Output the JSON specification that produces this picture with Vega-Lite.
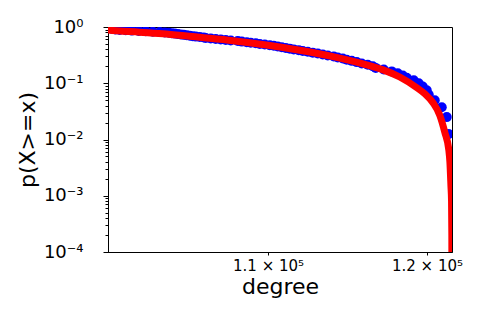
{
  "$schema": "https://vega.github.io/schema/vega-lite/v6.json",
  "width": 344,
  "height": 225,
  "autosize": "none",
  "padding": {"left": 108, "top": 27, "right": 28, "bottom": 68},
  "config": {
    "view": {"stroke": "black", "strokeWidth": 1},
    "font": "DejaVu Sans",
    "axis": {
      "grid": false,
      "domainColor": "black",
      "tickColor": "black",
      "labelColor": "black",
      "titleColor": "black",
      "titleFontWeight": "normal",
      "labelFont": "DejaVu Sans",
      "titleFont": "DejaVu Sans",
      "labelOverlap": false,
      "labelFlush": false,
      "labelBound": false
    }
  },
  "datasets": {
    "ccdf": [
      {"degree": 100788, "p": 1},
      {"degree": 100816, "p": 0.9875},
      {"degree": 100843, "p": 0.975},
      {"degree": 100871, "p": 0.9625},
      {"degree": 100926, "p": 0.95},
      {"degree": 100981, "p": 0.9375},
      {"degree": 101037, "p": 0.925},
      {"degree": 101147, "p": 0.9125},
      {"degree": 101203, "p": 0.9},
      {"degree": 101424, "p": 0.8875},
      {"degree": 101758, "p": 0.875},
      {"degree": 102093, "p": 0.8625},
      {"degree": 102485, "p": 0.85},
      {"degree": 102878, "p": 0.8375},
      {"degree": 103273, "p": 0.825},
      {"degree": 103669, "p": 0.8125},
      {"degree": 103954, "p": 0.8},
      {"degree": 104181, "p": 0.7875},
      {"degree": 104352, "p": 0.775},
      {"degree": 104524, "p": 0.7625},
      {"degree": 104696, "p": 0.75},
      {"degree": 104868, "p": 0.7375},
      {"degree": 105040, "p": 0.725},
      {"degree": 105213, "p": 0.7125},
      {"degree": 105386, "p": 0.7},
      {"degree": 105559, "p": 0.6875},
      {"degree": 105732, "p": 0.675},
      {"degree": 105964, "p": 0.6625},
      {"degree": 106196, "p": 0.65},
      {"degree": 106313, "p": 0.6375},
      {"degree": 106604, "p": 0.625},
      {"degree": 106896, "p": 0.6125},
      {"degree": 107189, "p": 0.6},
      {"degree": 107483, "p": 0.5875},
      {"degree": 107777, "p": 0.575},
      {"degree": 108191, "p": 0.5625},
      {"degree": 108428, "p": 0.55},
      {"degree": 108725, "p": 0.5375},
      {"degree": 108964, "p": 0.525},
      {"degree": 109262, "p": 0.5125},
      {"degree": 109502, "p": 0.5},
      {"degree": 109802, "p": 0.4875},
      {"degree": 110103, "p": 0.475},
      {"degree": 110344, "p": 0.4625},
      {"degree": 110587, "p": 0.45},
      {"degree": 110829, "p": 0.4375},
      {"degree": 111071, "p": 0.425},
      {"degree": 111314, "p": 0.4125},
      {"degree": 111559, "p": 0.4},
      {"degree": 111865, "p": 0.3875},
      {"degree": 112109, "p": 0.375},
      {"degree": 112417, "p": 0.3625},
      {"degree": 112725, "p": 0.35},
      {"degree": 113034, "p": 0.3375},
      {"degree": 113344, "p": 0.325},
      {"degree": 113654, "p": 0.3125},
      {"degree": 114028, "p": 0.3},
      {"degree": 114278, "p": 0.2875},
      {"degree": 114591, "p": 0.275},
      {"degree": 114842, "p": 0.2625},
      {"degree": 115157, "p": 0.25},
      {"degree": 115473, "p": 0.2375},
      {"degree": 115789, "p": 0.225},
      {"degree": 116170, "p": 0.2125},
      {"degree": 116488, "p": 0.2},
      {"degree": 116679, "p": 0.1875},
      {"degree": 117191, "p": 0.175},
      {"degree": 117705, "p": 0.1625},
      {"degree": 118092, "p": 0.15},
      {"degree": 118416, "p": 0.1375},
      {"degree": 118675, "p": 0.125},
      {"degree": 119131, "p": 0.1125},
      {"degree": 119457, "p": 0.1},
      {"degree": 119719, "p": 0.0875},
      {"degree": 119982, "p": 0.075},
      {"degree": 120113, "p": 0.0625},
      {"degree": 120508, "p": 0.05},
      {"degree": 120971, "p": 0.0375},
      {"degree": 121302, "p": 0.025},
      {"degree": 121435, "p": 0.0125}
    ],
    "fit": [
      {"degree": 100700, "p": 0.895},
      {"degree": 100780, "p": 0.885},
      {"degree": 102540, "p": 0.81},
      {"degree": 104050, "p": 0.75},
      {"degree": 105960, "p": 0.655},
      {"degree": 107910, "p": 0.57},
      {"degree": 109900, "p": 0.478},
      {"degree": 111930, "p": 0.385},
      {"degree": 113980, "p": 0.298},
      {"degree": 116090, "p": 0.213},
      {"degree": 117150, "p": 0.173},
      {"degree": 118220, "p": 0.129},
      {"degree": 119310, "p": 0.084},
      {"degree": 119850, "p": 0.065},
      {"degree": 120390, "p": 0.045},
      {"degree": 120840, "p": 0.027},
      {"degree": 121170, "p": 0.0135},
      {"degree": 121440, "p": 0.0065},
      {"degree": 121510, "p": 0.004},
      {"degree": 121580, "p": 0.0015},
      {"degree": 121620, "p": 0.0008},
      {"degree": 121640, "p": 0.0002},
      {"degree": 121650, "p": 0.00001}
    ]
  },
  "encoding": {
    "x": {
      "field": "degree",
      "type": "quantitative",
      "scale": {"type": "log", "domain": [100775, 121651], "nice": false, "zero": false},
      "axis": {
        "title": "degree",
        "titleFontSize": 22,
        "titlePadding": 3,
        "values": [110000, 120000],
        "labelExpr": "datum.value == 110000 ? '1.1 × 10⁵' : datum.value == 120000 ? '1.2 × 10⁵' : ''",
        "labelFontSize": 15,
        "labelPadding": 3,
        "tickSize": 3
      }
    },
    "y": {
      "field": "p",
      "type": "quantitative",
      "scale": {"type": "log", "domain": [0.0001, 1], "nice": false, "zero": false},
      "axis": {
        "title": "p(X>=x)",
        "titleFontSize": 22,
        "titlePadding": 4,
        "values": [1, 0.1, 0.01, 0.001, 0.0001, 0.9, 0.8, 0.7, 0.6, 0.5, 0.4, 0.3, 0.2, 0.09, 0.08, 0.07, 0.06, 0.05, 0.04, 0.03, 0.02, 0.009, 0.008, 0.007, 0.006, 0.005, 0.004, 0.003, 0.002, 0.0009, 0.0008, 0.0007, 0.0006, 0.0005, 0.0004, 0.0003, 0.0002],
        "labelExpr": "datum.value == 1 ? '10⁰' : datum.value == 0.1 ? '10⁻¹' : datum.value == 0.01 ? '10⁻²' : datum.value == 0.001 ? '10⁻³' : datum.value == 0.0001 ? '10⁻⁴' : ''",
        "labelFontSize": 18,
        "labelPadding": 20,
        "tickSize": {"condition": {"test": "indexof([1, 0.1, 0.01, 0.001, 0.0001], datum.value) >= 0", "value": 5}, "value": 3}
      }
    }
  },
  "layer": [
    {
      "data": {"name": "ccdf"},
      "mark": {"type": "circle", "size": 100, "color": "blue", "opacity": 1, "clip": true}
    },
    {
      "data": {"name": "fit"},
      "mark": {"type": "line", "color": "red", "strokeWidth": 7, "clip": true, "interpolate": "monotone"}
    }
  ]
}
